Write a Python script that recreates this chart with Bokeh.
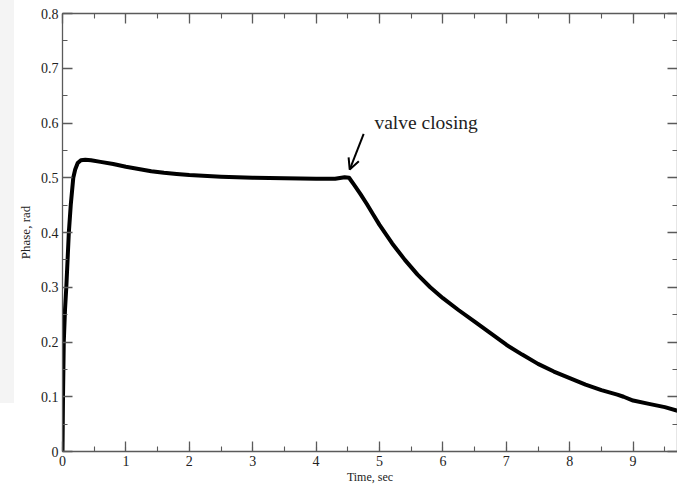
from bokeh.plotting import figure
from bokeh.models import (LinearAxis, SingleIntervalTicker, CustomJSTickFormatter,
                          Label, Arrow, OpenHead, Range1d, Div)
from bokeh.layouts import row
from bokeh.embed import file_html
from bokeh.resources import INLINE

# Phase response of the line, before and after the valve closes
time_sec = [0, 0.008, 0.02, 0.04, 0.06, 0.08, 0.10, 0.13, 0.17, 0.20, 0.24, 0.29,
            0.36, 0.45, 0.6, 0.8, 1.0, 1.2, 1.4, 1.6, 1.8, 2.0, 2.5, 3.0, 3.5, 4.0,
            4.3, 4.45, 4.52, 4.6, 4.7, 4.8, 4.9, 5.0, 5.2, 5.4, 5.6, 5.8, 6.0, 6.25,
            6.5, 6.75, 7.0, 7.25, 7.5, 7.75, 8.0, 8.25, 8.5, 8.75, 8.85, 9.0, 9.25,
            9.5, 9.70]
phase_rad = [0, 0.10, 0.20, 0.26, 0.30, 0.35, 0.40, 0.45, 0.50, 0.515, 0.527, 0.532,
             0.533, 0.532, 0.529, 0.525, 0.520, 0.516, 0.512, 0.509, 0.507, 0.505,
             0.502, 0.500, 0.499, 0.498, 0.498, 0.501, 0.500, 0.487, 0.470, 0.452,
             0.433, 0.414, 0.380, 0.350, 0.323, 0.300, 0.280, 0.258, 0.237, 0.216,
             0.195, 0.177, 0.160, 0.146, 0.134, 0.122, 0.112, 0.104, 0.100, 0.093,
             0.087, 0.081, 0.0745]

# annotation: text and arrow (tail -> tip)
note_text = "valve closing"
note_pos = (4.92, 0.601)
arrow_tail = (4.75, 0.580)
arrow_tip = (4.53, 0.515)

SERIF = "Liberation Serif"
AXIS_GRAY = "#5a5a5a"
TEXT = "#222222"

p = figure(width=663, height=486, x_range=Range1d(0, 9.70), y_range=Range1d(0, 0.8),
           output_backend="svg", toolbar_location=None,
           x_axis_location=None, y_axis_location=None,
           min_border_left=48, min_border_right=0, min_border_top=13, min_border_bottom=33)
p.outline_line_color = None
p.background_fill_color = "white"
p.border_fill_color = "white"
p.xgrid.visible = False
p.ygrid.visible = False

fmt = CustomJSTickFormatter(code="return tick.toFixed(1).replace(/\\.0$/, '');")


def style(ax, labels=True):
    ax.axis_line_color = AXIS_GRAY
    ax.axis_line_width = 1.3
    ax.major_tick_line_color = AXIS_GRAY
    ax.minor_tick_line_color = AXIS_GRAY
    ax.major_tick_line_width = 1.3
    ax.minor_tick_line_width = 1.1
    ax.major_tick_in = 10
    ax.major_tick_out = 0
    ax.minor_tick_in = 5
    ax.minor_tick_out = 0
    ax.formatter = fmt
    if labels:
        ax.major_label_text_font = SERIF
        ax.major_label_text_color = TEXT
        ax.axis_label_text_font = SERIF
        ax.axis_label_text_font_style = "normal"
        ax.axis_label_text_color = TEXT
    else:
        ax.major_label_text_font_size = "0px"
        ax.major_label_standoff = 0
        ax.major_label_text_alpha = 0


xb = LinearAxis(ticker=SingleIntervalTicker(interval=1, num_minor_ticks=2),
                axis_label="Time, sec")
style(xb)
xb.major_label_text_font_size = "14px"
xb.axis_label_text_font_size = "12px"
xb.major_label_standoff = 4
xb.axis_label_standoff = 1
p.add_layout(xb, "below")

xt = LinearAxis(ticker=SingleIntervalTicker(interval=1, num_minor_ticks=2))
style(xt, labels=False)
p.add_layout(xt, "above")

yl = LinearAxis(ticker=SingleIntervalTicker(interval=0.1, num_minor_ticks=2),
                axis_label="Phase, rad")
style(yl)
yl.major_label_text_font_size = "14px"
yl.axis_label_text_font_size = "13px"
yl.major_label_standoff = 4
yl.axis_label_standoff = 5
p.add_layout(yl, "left")

yr = LinearAxis(ticker=SingleIntervalTicker(interval=0.1, num_minor_ticks=2))
style(yr, labels=False)
p.add_layout(yr, "right")

p.line(time_sec, phase_rad, line_color="black", line_width=4,
       line_join="round", line_cap="round")

p.add_layout(Arrow(x_start=arrow_tail[0], y_start=arrow_tail[1],
                   x_end=arrow_tip[0], y_end=arrow_tip[1],
                   line_color="black", line_width=2,
                   end=OpenHead(size=11, line_color="black", line_width=2)))
p.add_layout(Label(x=note_pos[0], y=note_pos[1], text=note_text,
                   text_font=SERIF, text_font_size="19.5px", text_color=TEXT,
                   text_baseline="alphabetic"))

side = Div(width=14, height=403, margin=0, styles={"background-color": "#f4f4f4"})
layout = row(side, p, spacing=0)

open("out.html", "w").write(file_html(layout, INLINE))
